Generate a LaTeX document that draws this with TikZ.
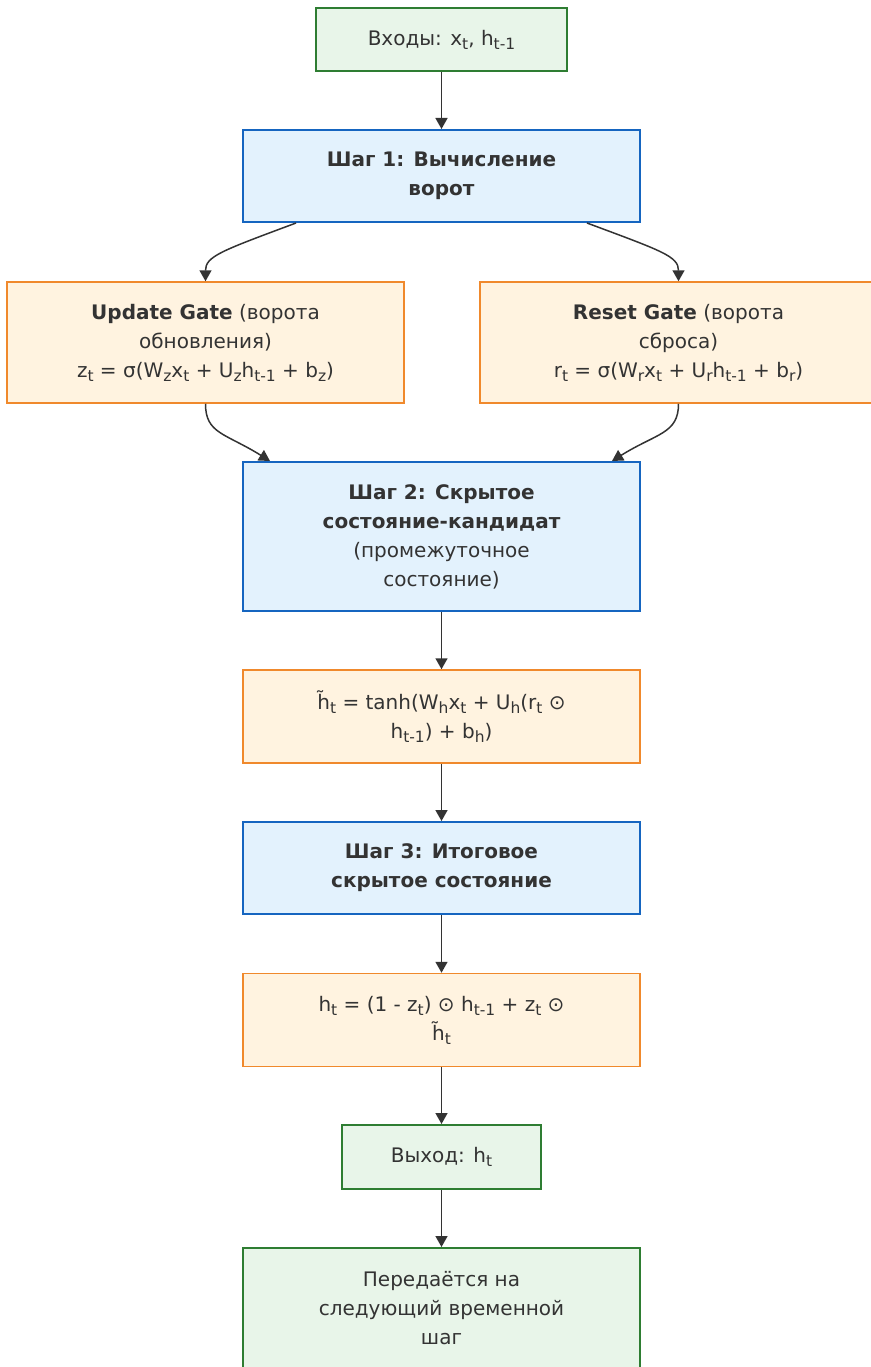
\documentclass[tikz,border=0pt]{standalone}
\usepackage{fontspec}
\setmainfont{DejaVu Sans}
\usetikzlibrary{arrows.meta}
\definecolor{iogreen}{HTML}{2E7D32}
\definecolor{iogreenbg}{HTML}{E8F5E9}
\definecolor{stepblue}{HTML}{1565C0}
\definecolor{stepbluebg}{HTML}{E3F2FD}
\definecolor{calcorange}{HTML}{F0892C}
\definecolor{calcorangebg}{HTML}{FFF3E0}
\definecolor{txt}{HTML}{333333}
\newcommand{\idx}[1]{\raisebox{-0.35ex}{\fontsize{15.5}{15.5}\selectfont #1}}
\newcommand{\htil}{\~{h}}
\tikzset{
    base/.style={rectangle,draw,align=center,text=txt,font=\fontsize{20}{29}\selectfont},
    io/.style={base,draw=iogreen,fill=iogreenbg,line width=2pt},
    stepbox/.style={base,draw=stepblue,fill=stepbluebg,line width=2pt,minimum width=397pt,minimum height=92pt},
    calcbox/.style={base,draw=calcorange,fill=calcorangebg,line width=1.5pt,minimum width=397pt,minimum height=93pt},
    edge/.style={-{Triangle[length=11pt,width=12pt]},line width=1.5pt,draw=txt}
}

\begin{document}
\begin{tikzpicture}[x=1pt,y=-1pt]
\useasboundingbox (0,0) rectangle (870,1367);

\node[io, minimum width=251pt, minimum height=63pt] (in) at (441.5,39.5) {Входы: x\idx{t}, h\idx{t-1}};
\node[stepbox] (s1) at (441.5,176) {\textbf{Шаг 1: Вычисление}\\\textbf{ворот}};

\node[calcbox, minimum height=121pt] (upd) at (205.5,342.5) {\textbf{Update Gate} (ворота\\обновления)\\z\idx{t} = σ(W\idx{z}x\idx{t} + U\idx{z}h\idx{t-1} + b\idx{z})};
\node[calcbox, minimum height=121pt] (rst) at (678.5,342.5) {\textbf{Reset Gate} (ворота\\сброса)\\r\idx{t} = σ(W\idx{r}x\idx{t} + U\idx{r}h\idx{t-1} + b\idx{r})};

\node[stepbox, minimum height=149pt] (s2) at (441.5,536.5) {\textbf{Шаг 2: Скрытое}\\\textbf{состояние-кандидат}\\(промежуточное\\состояние)};
\node[calcbox] (cand) at (441.5,716.5) {\htil\idx{t} = tanh(W\idx{h}x\idx{t} + U\idx{h}(r\idx{t} ⊙\\h\idx{t-1}) + b\idx{h})};

\node[stepbox] (s3) at (441.5,868) {\textbf{Шаг 3: Итоговое}\\\textbf{скрытое состояние}};
\node[calcbox] (hnew) at (441.5,1020) {h\idx{t} = (1 - z\idx{t}) ⊙ h\idx{t-1} + z\idx{t} ⊙\\\htil\idx{t}};

\node[io, minimum width=199pt, minimum height=64pt] (out) at (441.5,1157) {Выход: h\idx{t}};
\node[io, minimum width=397pt, minimum height=120pt] (next) at (441.5,1308) {Передаётся на\\следующий временной\\шаг};

\draw[edge] (in) -- (s1);
\draw[edge] ([xshift=-145.5pt]s1.south) .. controls +(-75,28) and +(0,-25) .. (upd.north);
\draw[edge] ([xshift=145.5pt]s1.south) .. controls +(75,28) and +(0,-25) .. (rst.north);
\draw[edge] (upd.south) .. controls +(0,30) and +(-45,-28) .. ([xshift=-171.5pt]s2.north);
\draw[edge] (rst.south) .. controls +(0,30) and +(45,-28) .. ([xshift=170.5pt]s2.north);
\draw[edge] (s2) -- (cand);
\draw[edge] (cand) -- (s3);
\draw[edge] (s3) -- (hnew);
\draw[edge] (hnew) -- (out);
\draw[edge] (out) -- (next);

\end{tikzpicture}
\end{document}
